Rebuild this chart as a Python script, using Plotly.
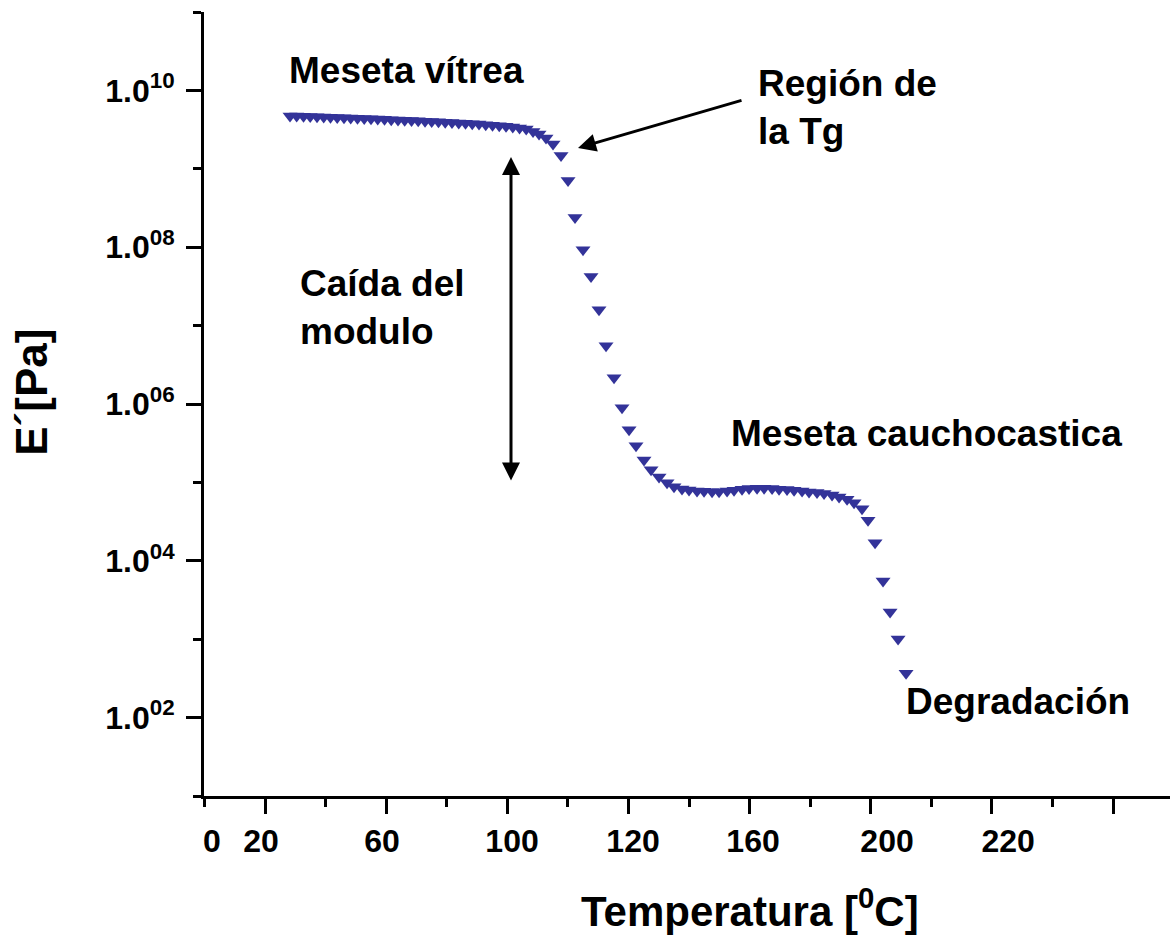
import plotly.graph_objects as go

# ---------------- data ----------------
temperature = [24.13, 25.23, 26.36, 27.46, 28.59, 29.69, 30.81, 31.92, 33.04, 34.15,
               35.27, 36.38, 37.50, 38.61, 39.73, 40.84, 41.96, 43.06, 44.19, 45.29,
               46.42, 47.52, 48.64, 49.75, 50.87, 51.98, 53.10, 54.21, 55.33, 56.44,
               57.56, 58.67, 59.79, 60.90, 62.02, 63.12,
               64.25, 65.24, 66.39, 67.55, 68.87, 70.03, 71.18, 72.50, 73.82, 75.14,
               76.30, 77.62, 78.94, 80.10, 81.25, 82.57, 83.73, 85.05, 86.37, 87.52,
               88.84, 90.00, 91.32, 92.48, 93.80, 94.96, 96.28, 97.43, 98.75, 99.91,
               101.23, 102.39, 103.71, 104.86, 106.18, 107.34, 108.66, 109.81, 111.13, 112.29,
               113.61, 114.77, 116.09, 117.24, 118.56, 119.55, 120.71, 122.03, 123.19, 124.51,
               125.83]

log10_modulus = [9.674, 9.672, 9.669, 9.667, 9.664, 9.660, 9.658, 9.655, 9.651, 9.649,
                 9.645, 9.642, 9.639, 9.635, 9.631, 9.627, 9.623, 9.619, 9.616, 9.612,
                 9.607, 9.603, 9.599, 9.594, 9.590, 9.585, 9.580, 9.575, 9.570, 9.563,
                 9.557, 9.549, 9.542, 9.533, 9.522, 9.508,
                 9.476, 9.444, 9.393, 9.317, 9.170, 8.851, 8.378, 7.969, 7.625, 7.203,
                 6.743, 6.335, 5.951, 5.670, 5.466, 5.287, 5.160, 5.070, 4.994, 4.943,
                 4.917, 4.904, 4.891, 4.887, 4.882, 4.882, 4.891, 4.900, 4.913, 4.921,
                 4.926, 4.926, 4.921, 4.913, 4.908, 4.900, 4.891, 4.879, 4.870, 4.857,
                 4.840, 4.815, 4.785, 4.742, 4.665, 4.517, 4.231, 3.742, 3.346, 3.001,
                 2.567]

modulus_pa = [10 ** v for v in log10_modulus]

x_tick_labels = ["0", "20", "60", "100", "120", "160", "200", "220"]
x_label_positions = [11.25, 19.34, 39.32, 60.78, 80.76, 100.57, 122.69, 142.67]
x_major_ticks = [20, 40, 60, 80, 100, 120, 140, 160]
x_minor_ticks = [10, 30, 50, 70, 90, 110, 130, 150, 170]

y_tick_values = [1e2, 1e4, 1e6, 1e8, 1e10]
y_tick_labels = ["1.0<sup>02</sup>", "1.0<sup>04</sup>", "1.0<sup>06</sup>",
                 "1.0<sup>08</sup>", "1.0<sup>10</sup>"]
y_minor_ticks = [1e1, 1e3, 1e5, 1e7, 1e9, 1e11]

# ---------------- figure ----------------
FONT = "Liberation Sans, Arial, sans-serif"
MARK = "#333399"

fig = go.Figure()
fig.add_trace(go.Scatter(
    x=temperature, y=modulus_pa, mode="markers",
    marker=dict(symbol="triangle-down", size=13, color=MARK, line=dict(width=0)),
    showlegend=False, hoverinfo="skip",
))
# helper invisible trace so the label axis exists
fig.add_trace(go.Scatter(x=[None], y=[None], xaxis="x2", yaxis="y",
                         showlegend=False, hoverinfo="skip"))

fig.update_layout(
    width=1170, height=936,
    margin=dict(l=204, r=0, t=12, b=140),
    paper_bgcolor="white", plot_bgcolor="white",
    font=dict(family=FONT, color="black"),
    xaxis=dict(
        range=[9.93, 169.4], showgrid=False, zeroline=False,
        showline=True, linecolor="black", linewidth=3,
        tickmode="array", tickvals=x_major_ticks, ticks="outside",
        ticklen=15, tickwidth=3, tickcolor="black", showticklabels=False,
        minor=dict(tickmode="array", tickvals=x_minor_ticks, ticks="outside",
                   ticklen=8, tickwidth=3, tickcolor="black", showgrid=False),
    ),
    xaxis2=dict(
        range=[9.93, 169.4], overlaying="x", side="bottom", anchor="y",
        showgrid=False, zeroline=False, showline=False,
        tickmode="array", tickvals=x_label_positions, ticktext=x_tick_labels,
        ticks="outside", ticklen=17, tickcolor="rgba(0,0,0,0)",
        tickfont=dict(family=FONT, size=32, weight="bold", color="black"),
    ),
    yaxis=dict(
        type="log", range=[1, 11], showgrid=False, zeroline=False,
        showline=True, linecolor="black", linewidth=3,
        tickmode="array", tickvals=y_tick_values, ticktext=y_tick_labels,
        ticks="outside", ticklen=15, tickwidth=3, tickcolor="black",
        tickfont=dict(family=FONT, size=32, weight="bold", color="black"),
        ticklabelstandoff=5,
        minor=dict(tickmode="array", tickvals=y_minor_ticks, ticks="outside",
                   ticklen=8, tickwidth=3, tickcolor="black", showgrid=False),
    ),
)

ann_font = dict(family=FONT, size=37, weight="bold", color="black")

def px_x(px):
    return (px - 204) / 966

def px_y(py):
    return (796.5 - py) / 784.5

texts = [
    ("Meseta vítrea", 287, 71),
    ("Región de<br>la Tg", 756, 108),
    ("Caída del<br>modulo", 298, 308),
    ("Meseta cauchocastica", 729, 434),
    ("Degradación", 904, 702),
]
for t, x, y in texts:
    fig.add_annotation(text=t, x=px_x(x), y=px_y(y), xref="paper", yref="paper",
                       xanchor="left", yanchor="middle", align="left",
                       showarrow=False, font=ann_font)

# axis titles
fig.add_annotation(text="Temperatura [<sup>0</sup>C]", x=px_x(750), y=px_y(909),
                   xref="paper", yref="paper", xanchor="center", yanchor="middle",
                   showarrow=False,
                   font=dict(family=FONT, size=42, weight="bold", color="black"))
fig.add_annotation(text="E´[Pa]", x=px_x(32), y=px_y(393), textangle=-90,
                   xref="paper", yref="paper", xanchor="center", yanchor="middle",
                   showarrow=False,
                   font=dict(family=FONT, size=44, weight="bold", color="black"))

# arrows
fig.add_annotation(text="", x=px_x(578), y=px_y(148), xref="paper", yref="paper",
                   ax=165, ay=-48, showarrow=True, arrowhead=2, arrowsize=1.2,
                   arrowwidth=3, arrowcolor="black", standoff=0)
fig.add_annotation(text="", x=px_x(511), y=px_y(157), xref="paper", yref="paper",
                   ax=0, ay=325, showarrow=True, arrowhead=2, startarrowhead=2,
                   arrowside="end+start", arrowsize=1.2, startarrowsize=1.2,
                   arrowwidth=3, arrowcolor="black", standoff=0, startstandoff=0)

fig.write_html("out.html")
